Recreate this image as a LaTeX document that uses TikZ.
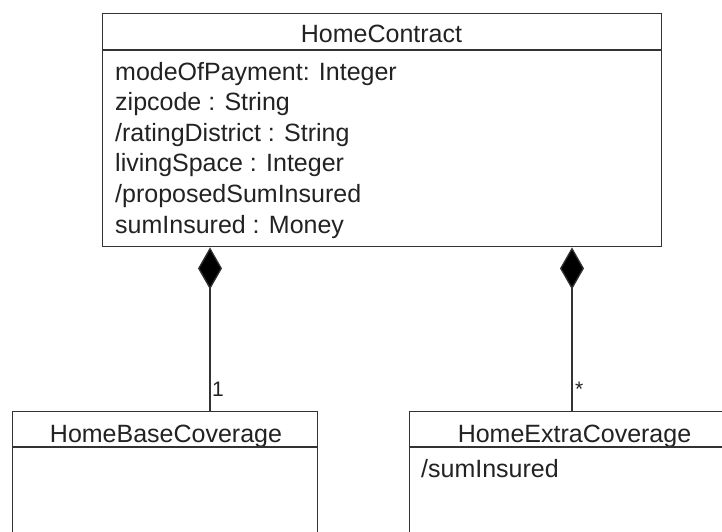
\documentclass[tikz,border=0pt]{standalone}
\usepackage{fontspec}
\setmainfont{Liberation Sans}
\usetikzlibrary{arrows.meta}
\definecolor{ink}{HTML}{222222}
\definecolor{edge}{HTML}{333333}
\begin{document}
\begin{tikzpicture}[x=1pt,y=-1pt,
  classbox/.style={draw=edge, line width=1.4pt, rectangle, inner sep=0pt, anchor=north west, fill=white},
  txt/.style={text=ink, inner sep=0pt, font=\fontsize{25}{30.6}\selectfont},
  mult/.style={text=ink, inner sep=0pt, font=\fontsize{21}{24}\selectfont, anchor=base west},
  sep/.style={draw=edge, line width=1.4pt},
  comp/.style={draw=edge, line width=1.3pt, -{Diamond[length=42pt,width=24pt,fill=black]}}]
\useasboundingbox (0,0) rectangle (722,532);
\clip (0,0) rectangle (722,532);
% HomeContract
\node[classbox, minimum width=559pt, minimum height=233pt] (hc) at (102,13) {};
\node[txt, anchor=base] (hcT) at (381.5,43) {HomeContract};
\draw[sep] ([yshift=-37pt]hc.north west) -- ([yshift=-37pt]hc.north east);
\node[txt, anchor=base west, align=left] (hcA) at (115,233) {modeOfPayment: Integer\\zipcode : String\\/ratingDistrict : String\\livingSpace : Integer\\/proposedSumInsured\\sumInsured : Money};
% HomeBaseCoverage
\node[classbox, minimum width=305pt, minimum height=200pt] (hbc) at (12,411) {};
\node[txt, anchor=base] (hbcT) at (166,442) {HomeBaseCoverage};
\draw[sep] ([yshift=-36pt]hbc.north west) -- ([yshift=-36pt]hbc.north east);
% HomeExtraCoverage
\node[classbox, minimum width=331pt, minimum height=200pt] (hec) at (409,411) {};
\node[txt, anchor=base] (hecT) at (574.5,442) {HomeExtraCoverage};
\draw[sep] ([yshift=-36pt]hec.north west) -- ([yshift=-36pt]hec.north east);
\node[txt, anchor=base west] (hecA) at (421,477) {/sumInsured};
% compositions
\draw[comp] ([xshift=198pt]hbc.north west) -- ([xshift=108pt]hc.south west);
\draw[comp] ([xshift=163pt]hec.north west) -- ([xshift=470pt]hc.south west);
\node[mult] (m1) at (212,396) {1};
\node[mult] (m2) at (575,396) {*};
\end{tikzpicture}
\end{document}
